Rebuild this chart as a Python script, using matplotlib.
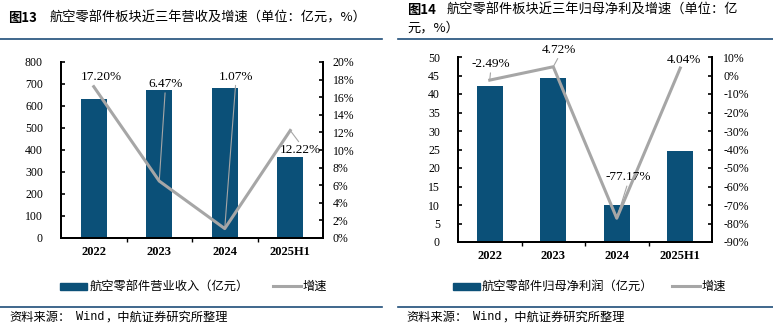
import matplotlib
matplotlib.use('Agg')
import matplotlib.pyplot as plt
from matplotlib.lines import Line2D
from matplotlib.patches import Rectangle
from matplotlib.ticker import FuncFormatter, MultipleLocator, FixedLocator

# 航空零部件板块数据
years = ['2022', '2023', '2024', '2025H1']
revenue = [632, 673, 680, 368]                      # 营业收入（亿元）
revenue_growth = [17.20, 6.47, 1.07, 12.22]         # 增速（%）
net_profit = [42.2, 44.2, 10.1, 24.6]               # 归母净利润（亿元）
profit_growth = [-2.49, 4.72, -77.17, 4.04]         # 增速（%）

BAR_COLOR = '#0B5078'
LINE_COLOR = '#A6A6A6'
RULE_COLOR = '#1F4E79'
CJK = ['Noto Sans CJK SC', 'DejaVu Sans']
SERIF = ['Liberation Serif', 'DejaVu Serif']

W, H = 773, 329
fig = plt.figure(figsize=(W / 100, H / 100), dpi=100)


def px(x, y):
    return x / W, 1 - y / H


def rule(x0, x1, y):
    fig.add_artist(Line2D([x0 / W, x1 / W], [1 - y / H, 1 - y / H],
                          color=RULE_COLOR, lw=1.2))


def pct_fmt(v, _):
    return '{:.0f}%'.format(v * 100 + 0.0)


def style_axes(ax, ax2, yticks, pct_step, left_pad, right_pad):
    for s in ['top']:
        ax.spines[s].set_visible(False)
        ax2.spines[s].set_visible(False)
    for s in ['left', 'bottom', 'right']:
        ax.spines[s].set_linewidth(1.4)
        ax2.spines[s].set_linewidth(1.4)
    ax.set_xlim(-0.5, 3.5)
    ax.set_xticks(range(4))
    ax.set_xticklabels(years, fontfamily=SERIF, fontweight='bold', fontsize=9)
    ax.tick_params(axis='x', length=0, pad=6)
    ax.xaxis.set_minor_locator(FixedLocator([0.5, 1.5, 2.5]))
    ax.tick_params(axis='x', which='minor', direction='out', length=3, width=1)
    ax.yaxis.set_major_locator(MultipleLocator(yticks))
    ax.tick_params(axis='y', direction='in', length=3, width=1.2, pad=left_pad,
                   labelsize=8.5)
    ax2.yaxis.set_major_locator(MultipleLocator(pct_step))
    ax2.yaxis.set_major_formatter(FuncFormatter(pct_fmt))
    ax2.tick_params(axis='y', direction='in', length=3, width=1.2, pad=right_pad,
                    labelsize=8.5)
    for lab in ax.get_yticklabels() + ax2.get_yticklabels():
        lab.set_fontfamily(SERIF)


def label_points(ax2, values, offsets):
    for i, (v, (dx, dy, rel, lead)) in enumerate(zip(values, offsets)):
        arrow = None
        if lead:
            arrow = dict(arrowstyle='-', color=LINE_COLOR, lw=0.8,
                         shrinkA=0, shrinkB=0, relpos=rel)
        ax2.annotate('{:.2f}%'.format(v), xy=(i, v / 100),
                     xytext=(dx * 0.72, dy * 0.72), textcoords='offset points',
                     ha='center', va='center', fontsize=9.5, fontfamily=SERIF,
                     arrowprops=arrow, zorder=5)


def legend(x_box, x_text, x_line, x_line_text, y, text):
    x0, y0 = px(x_box, y + 3.5)
    fig.add_artist(Rectangle((x0, y0), 27 / W, 7 / H, color=BAR_COLOR,
                             transform=fig.transFigure))
    fig.text(*px(x_text, y), text, family=CJK, fontsize=8.8, va='center')
    fig.add_artist(Line2D([x_line / W, (x_line + 28) / W], [1 - y / H] * 2,
                          color=LINE_COLOR, lw=2.2))
    fig.text(*px(x_line_text, y), '增速', family=CJK, fontsize=8.8, va='center')


def source(x, y):
    fig.text(*px(x, y), '资料来源：', family=CJK, fontsize=8.8, va='center')
    fig.text(*px(x + 67, y), 'Wind', family=['Liberation Mono', 'DejaVu Sans Mono'],
             fontsize=8.6, va='center')
    fig.text(*px(x + 96, y), '，中航证券研究所整理', family=CJK, fontsize=8.8,
             va='center')


# 左图：营业收入及增速
ax = fig.add_axes([61 / W, 1 - 238 / H, 262 / W, 176 / H])
ax2 = ax.twinx()
ax.bar(range(4), revenue, width=0.4, color=BAR_COLOR, zorder=2)
ax2.plot(range(4), [g / 100 for g in revenue_growth], color=LINE_COLOR, lw=2.2,
         zorder=3)
ax.set_ylim(0, 800)
ax2.set_ylim(0, 0.2)
style_axes(ax, ax2, 100, 0.02, 13, 7)
label_points(ax2, revenue_growth, [
    (8, 10, (0.5, 0), False),
    (6, 97, (0.5, 0), True),
    (11, 152, (0.5, 0), True),
    (10.5, -20, (0.5, 1), True),
])

# 右图：归母净利润及增速
bx = fig.add_axes([458 / W, 1 - 242 / H, 254 / W, 185 / H])
bx2 = bx.twinx()
bx.bar(range(4), net_profit, width=0.41, color=BAR_COLOR, zorder=2)
bx2.plot(range(4), [g / 100 for g in profit_growth], color=LINE_COLOR, lw=2.2,
         zorder=3)
bx.set_ylim(0, 50)
bx2.set_ylim(-0.9, 0.1)
style_axes(bx, bx2, 5, 0.1, 13, 8)
label_points(bx2, profit_growth, [
    (1, 16, (0.5, 0), True),
    (6, 17, (0.5, 0), True),
    (11, 41, (0.5, 0), True),
    (4, 8, (0.5, 0), False),
])

# 标题、分隔线、图例、来源
fig.text(*px(8, 18), '图13', family=CJK, fontsize=9.5, fontweight='bold', va='center')
fig.text(*px(50, 18), '航空零部件板块近三年营收及增速（单位：亿元，%）', family=CJK,
         fontsize=9.5, va='center')
fig.text(*px(407, 10), '图14', family=CJK, fontsize=9.5, fontweight='bold', va='center')
fig.text(*px(447, 10), '航空零部件板块近三年归母净利及增速（单位：亿', family=CJK,
         fontsize=9.5, va='center')
fig.text(*px(407, 28), '元，%）', family=CJK, fontsize=9.5, va='center')

rule(0, 382, 39.3)
rule(398, 773, 39.3)
rule(0, 382, 307.3)
rule(398, 773, 307.3)

legend(60, 90, 273, 303, 286, '航空零部件营业收入（亿元）')
legend(453, 482, 672, 702, 286, '航空零部件归母净利润（亿元）')

source(9, 317)
source(406, 317)

fig.savefig('out.png', dpi=100)
